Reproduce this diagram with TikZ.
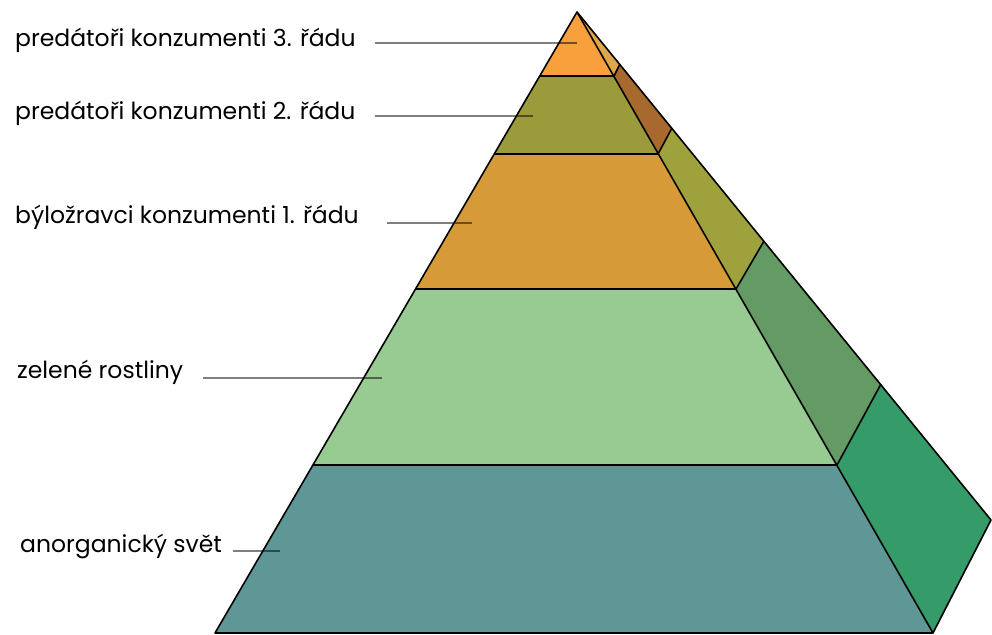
\documentclass[tikz,border=0pt]{standalone}
\usepackage{fontspec}
\setmainfont{Poppins}
\definecolor{fA}{HTML}{F8A03C}
\definecolor{fB}{HTML}{9B9B3B}
\definecolor{fC}{HTML}{D69B38}
\definecolor{fD}{HTML}{98CB91}
\definecolor{fE}{HTML}{5F9696}
\definecolor{sA}{HTML}{DEA84A}
\definecolor{sB}{HTML}{A8692E}
\definecolor{sC}{HTML}{9FA23C}
\definecolor{sD}{HTML}{649A63}
\definecolor{sE}{HTML}{349B69}
\tikzset{
  face/.style={draw=black, line width=1.6pt, line join=round},
  lbl/.style={anchor=base west, inner sep=0pt, font=\fontsize{23.5}{28}\selectfont, text=black},
  leader/.style={draw=black, draw opacity=0.5, line width=1.4pt}
}
\begin{document}
\begin{tikzpicture}[x=1pt,y=-1pt]
\useasboundingbox (0,0) rectangle (992,634);
% key points
\coordinate (A) at (577,12);
\coordinate (l1) at (540,76);  \coordinate (r1) at (614,76);  \coordinate (b1) at (620,64);
\coordinate (l2) at (494,154); \coordinate (r2) at (658,154); \coordinate (b2) at (672,128);
\coordinate (l3) at (416,289); \coordinate (r3) at (736,289); \coordinate (b3) at (764,241);
\coordinate (l4) at (313,465); \coordinate (r4) at (837,465); \coordinate (b4) at (881,384);
\coordinate (l5) at (215,633); \coordinate (r5) at (933,633); \coordinate (b5) at (991,520);
% front faces
\fill[fA] (A) -- (l1) -- (r1) -- cycle;
\fill[fB] (l1) -- (l2) -- (r2) -- (r1) -- cycle;
\fill[fC] (l2) -- (l3) -- (r3) -- (r2) -- cycle;
\fill[fD] (l3) -- (l4) -- (r4) -- (r3) -- cycle;
\fill[fE] (l4) -- (l5) -- (r5) -- (r4) -- cycle;
% side faces
\fill[sA] (A) -- (r1) -- (b1) -- cycle;
\fill[sB] (r1) -- (r2) -- (b2) -- (b1) -- cycle;
\fill[sC] (r2) -- (r3) -- (b3) -- (b2) -- cycle;
\fill[sD] (r3) -- (r4) -- (b4) -- (b3) -- cycle;
\fill[sE] (r4) -- (r5) -- (b5) -- (b4) -- cycle;
% outlines
\draw[face] (A) -- (l5) -- (r5) -- (b5) -- cycle;
\draw[face] (A) -- (r5);
\draw[face] (l1) -- (r1) -- (b1);
\draw[face] (l2) -- (r2) -- (b2);
\draw[face] (l3) -- (r3) -- (b3);
\draw[face] (l4) -- (r4) -- (b4);
% labels
\node[lbl] (t1) at (15,47) {predátoři konzumenti 3. řádu};
\node[lbl] (t2) at (15,119) {predátoři konzumenti 2. řádu};
\node[lbl] (t3) at (15,223) {býložravci konzumenti 1. řádu};
\node[lbl] (t4) at (17,378) {zelené rostliny};
\node[lbl] (t5) at (20,552) {anorganický svět};
% leader lines
\coordinate (e1) at (577,43);
\coordinate (e2) at (533,116);
\coordinate (e3) at (472,223);
\coordinate (e4) at (382,378);
\coordinate (e5) at (280,551);
\draw[leader] (375,43) -- (e1);
\draw[leader] (375,116) -- (e2);
\draw[leader] (387,223) -- (e3);
\draw[leader] (203,378) -- (e4);
\draw[leader] (233,551) -- (e5);
\end{tikzpicture}
\end{document}
